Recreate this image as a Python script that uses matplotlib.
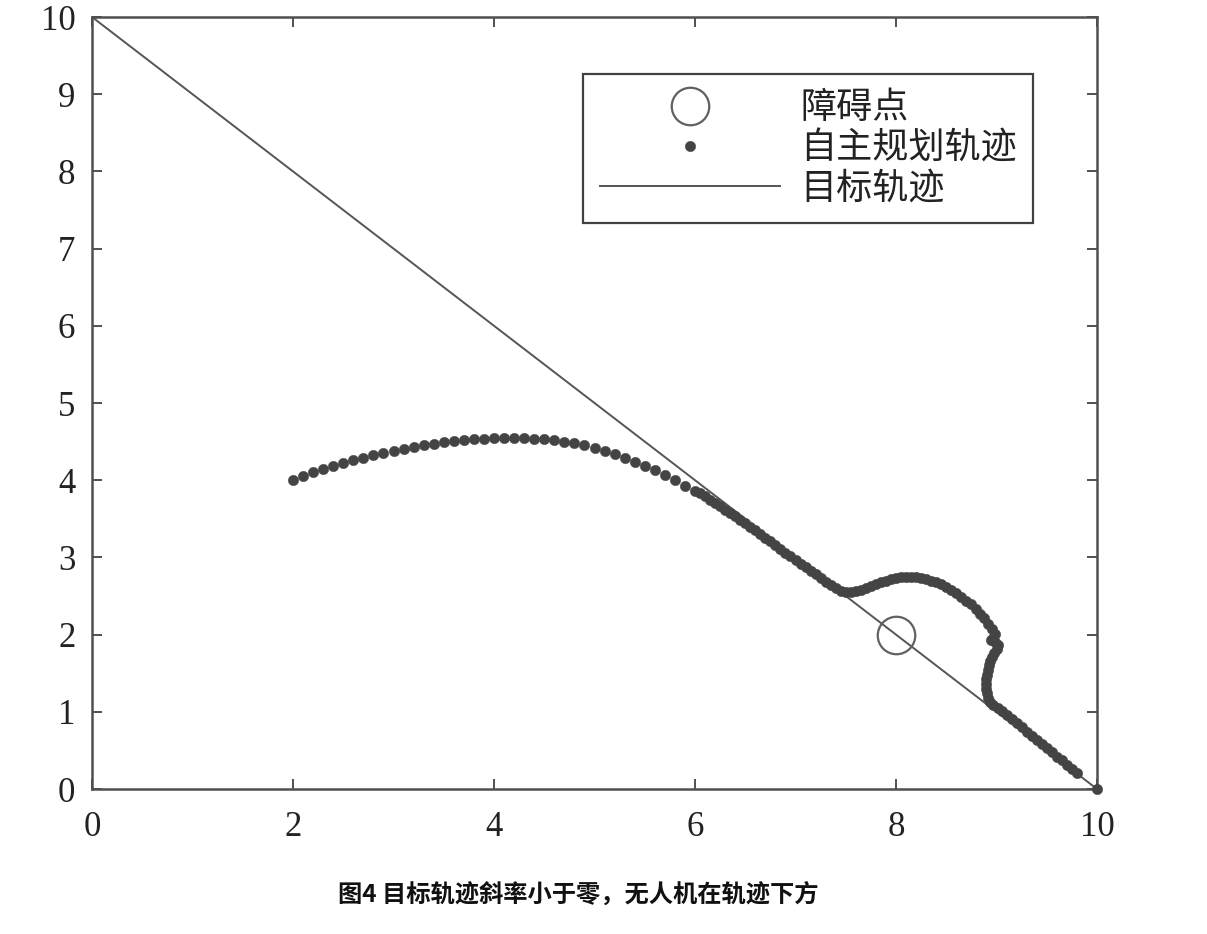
import matplotlib
matplotlib.use("Agg")
import matplotlib.pyplot as plt

# Target trajectory (straight line)
target_x = [0, 10]
target_y = [10, 0]

# Obstacle point
obstacle_x = [8]
obstacle_y = [2]

# Autonomously planned trajectory
path_x = [2.0, 2.1, 2.2, 2.3, 2.4, 2.5, 2.6, 2.7, 2.8, 2.9,
          3.0, 3.1, 3.2, 3.3, 3.4, 3.5, 3.6, 3.7, 3.8, 3.9,
          4.0, 4.1, 4.2, 4.3, 4.4, 4.5, 4.6, 4.7, 4.8, 4.9,
          5.0, 5.1, 5.2, 5.3, 5.4, 5.5, 5.6, 5.7, 5.8, 5.9,
          6.0, 6.05, 6.1, 6.15, 6.2, 6.25, 6.3, 6.35, 6.4, 6.45,
          6.5, 6.55, 6.6, 6.65, 6.7, 6.75, 6.8, 6.85, 6.9, 6.95,
          7.0, 7.05, 7.1, 7.15, 7.2, 7.25, 7.3, 7.35, 7.4, 7.45,
          7.5, 7.55, 7.6, 7.65, 7.7, 7.75, 7.8, 7.85, 7.9, 7.95,
          8.0, 8.05, 8.1, 8.15, 8.2, 8.25, 8.3, 8.35, 8.4, 8.45,
          8.5, 8.55, 8.6, 8.65, 8.7, 8.75, 8.8, 8.84, 8.88, 8.92,
          8.96, 8.99, 8.97, 8.95, 8.99, 9.01, 9.0, 8.98, 8.96, 8.94,
          8.93, 8.92, 8.91, 8.9, 8.9, 8.9, 8.91, 8.92, 8.94, 8.97,
          9.01, 9.05, 9.1, 9.15, 9.2, 9.25, 9.3, 9.35, 9.4, 9.45,
          9.5, 9.55, 9.6, 9.65, 9.7, 9.75, 9.8, 10.0]
path_y = [4.00, 4.05, 4.10, 4.14, 4.18, 4.22, 4.26, 4.29, 4.32, 4.35,
          4.38, 4.41, 4.43, 4.45, 4.47, 4.49, 4.51, 4.52, 4.53, 4.54,
          4.55, 4.55, 4.55, 4.55, 4.54, 4.53, 4.52, 4.50, 4.48, 4.45,
          4.42, 4.38, 4.34, 4.29, 4.24, 4.19, 4.13, 4.07, 4.00, 3.93,
          3.86, 3.83, 3.79, 3.75, 3.71, 3.67, 3.62, 3.58, 3.53, 3.49,
          3.44, 3.40, 3.35, 3.30, 3.25, 3.21, 3.16, 3.11, 3.06, 3.02,
          2.97, 2.92, 2.87, 2.83, 2.78, 2.73, 2.68, 2.64, 2.60, 2.57,
          2.55, 2.55, 2.56, 2.58, 2.60, 2.63, 2.66, 2.68, 2.70, 2.72,
          2.73, 2.74, 2.75, 2.75, 2.74, 2.73, 2.72, 2.70, 2.68, 2.65,
          2.62, 2.58, 2.54, 2.49, 2.44, 2.39, 2.33, 2.27, 2.21, 2.14,
          2.07, 2.01, 1.96, 1.93, 1.90, 1.86, 1.81, 1.76, 1.71, 1.66,
          1.60, 1.54, 1.48, 1.42, 1.36, 1.30, 1.24, 1.18, 1.13, 1.09,
          1.05, 1.01, 0.96, 0.91, 0.85, 0.80, 0.74, 0.69, 0.63, 0.58,
          0.53, 0.48, 0.42, 0.37, 0.31, 0.26, 0.21, 0.00]

x_ticks = [0, 2, 4, 6, 8, 10]
y_ticks = [0, 1, 2, 3, 4, 5, 6, 7, 8, 9, 10]
labels = ["障碍点", "自主规划轨迹", "目标轨迹"]
caption = "图4 目标轨迹斜率小于零，无人机在轨迹下方"

cjk = ["Noto Sans CJK SC", "DejaVu Sans"]

fig = plt.figure(figsize=(12.07, 9.34), dpi=100)
ax = fig.add_axes([92/1207, 1-789/934, (1097-92)/1207, (789-17)/934])

h_obs, = ax.plot(obstacle_x, obstacle_y, "o", ms=27, mfc="none", mec="#606060", mew=1.6, zorder=3)
h_path, = ax.plot(path_x, path_y, "o", ms=7.5, color="#444444", mec="#444444", mew=0.3,
                  zorder=4, clip_on=False)
h_tgt, = ax.plot(target_x, target_y, "-", color="#555555", lw=1.4, zorder=2)

ax.set_xlim(0, 10)
ax.set_ylim(0, 10)
ax.set_xticks(x_ticks)
ax.set_yticks(y_ticks)
ax.set_xticklabels([str(v) for v in x_ticks])
ax.set_yticklabels([str(v) for v in y_ticks])
for lab in ax.get_xticklabels() + ax.get_yticklabels():
    lab.set_fontfamily("Liberation Serif")
    lab.set_fontsize(25)
    lab.set_color("#222222")
ax.tick_params(axis="both", direction="in", length=7, width=1.4, color="#505050",
               top=True, right=True)
ax.tick_params(axis="x", pad=16)
ax.tick_params(axis="y", pad=12)
for sp in ax.spines.values():
    sp.set_linewidth(1.8)
    sp.set_color("#505050")

leg = ax.legend([h_obs, h_path, h_tgt], labels, loc="upper right",
                bbox_to_anchor=((1033-92)/1005, (789-74)/772), borderaxespad=0,
                prop={"family": cjk, "size": 26}, handlelength=5.0,
                handletextpad=0.55, labelspacing=0.12, borderpad=0.45,
                fancybox=False, framealpha=1, edgecolor="#404040")
leg.get_frame().set_linewidth(1.6)
for t in leg.get_texts():
    t.set_color("#222222")

fig.text(0.479, 1-895/934, caption, ha="center", va="center",
         fontsize=17.5, fontweight="bold", family=cjk, color="#111111")

fig.savefig("out.png", dpi=100, facecolor="white")
